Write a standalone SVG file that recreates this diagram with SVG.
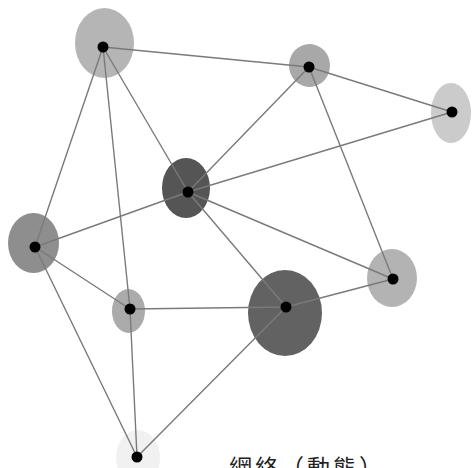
<svg xmlns="http://www.w3.org/2000/svg" width="474" height="468" viewBox="0 0 474 468">
<style>
.edge{stroke:#7a7a7a;stroke-width:1.4;fill:none;stroke-linecap:round}
.dot{fill:#000}
.lbl{font-family:"Noto Sans CJK TC","Noto Sans CJK SC",sans-serif;font-size:23px;fill:#222;letter-spacing:3px}
</style>
<rect width="474" height="468" fill="#fff"/>
<g id="halos">
<ellipse cx="104.5" cy="43" rx="29.5" ry="35" fill="#b5b5b5"/>
<ellipse cx="309.5" cy="65.5" rx="20.5" ry="21.5" fill="#a8a8a8"/>
<ellipse cx="451" cy="113" rx="20" ry="30" fill="#cbcbcb"/>
<ellipse cx="186" cy="188" rx="24" ry="30" fill="#555555"/>
<ellipse cx="33.5" cy="243" rx="25.5" ry="30" fill="#8e8e8e"/>
<ellipse cx="128.5" cy="311" rx="16.5" ry="22" fill="#ababab"/>
<ellipse cx="285" cy="313" rx="37" ry="43" fill="#626262"/>
<ellipse cx="392" cy="278" rx="25" ry="29" fill="#b3b3b3"/>
<ellipse cx="138" cy="458" rx="22" ry="28" fill="#f1f1f1"/>
</g>
<g id="connectors">
<line class="edge" x1="103" y1="47" x2="309" y2="67"/>
<line class="edge" x1="103" y1="47" x2="188" y2="192"/>
<line class="edge" x1="103" y1="47" x2="35" y2="247"/>
<line class="edge" x1="103" y1="47" x2="130" y2="309"/>
<line class="edge" x1="309" y1="67" x2="452" y2="112"/>
<line class="edge" x1="309" y1="67" x2="188" y2="192"/>
<line class="edge" x1="309" y1="67" x2="393" y2="279"/>
<line class="edge" x1="452" y1="112" x2="188" y2="192"/>
<line class="edge" x1="188" y1="192" x2="35" y2="247"/>
<line class="edge" x1="188" y1="192" x2="393" y2="279"/>
<line class="edge" x1="188" y1="192" x2="286" y2="307"/>
<line class="edge" x1="35" y1="247" x2="130" y2="309"/>
<line class="edge" x1="35" y1="247" x2="137" y2="457"/>
<line class="edge" x1="130" y1="309" x2="286" y2="307"/>
<line class="edge" x1="130" y1="309" x2="137" y2="457"/>
<line class="edge" x1="286" y1="307" x2="393" y2="279"/>
<line class="edge" x1="286" y1="307" x2="137" y2="457"/>
</g>
<g id="nA"><circle class="dot" cx="103" cy="47" r="5.5"/></g>
<g id="nB"><circle class="dot" cx="309" cy="67" r="5.5"/></g>
<g id="nC"><circle class="dot" cx="452" cy="112" r="5.5"/></g>
<g id="nD"><circle class="dot" cx="188" cy="192" r="5.5"/></g>
<g id="nE"><circle class="dot" cx="35" cy="247" r="5.5"/></g>
<g id="nF"><circle class="dot" cx="130" cy="309" r="5.5"/></g>
<g id="nG"><circle class="dot" cx="286" cy="307" r="5.5"/></g>
<g id="nH"><circle class="dot" cx="393" cy="279" r="5.5"/></g>
<g id="nI"><circle class="dot" cx="137" cy="457" r="5.5"/></g>
<text class="lbl" x="229" y="476">網絡（動態）</text>
</svg>
